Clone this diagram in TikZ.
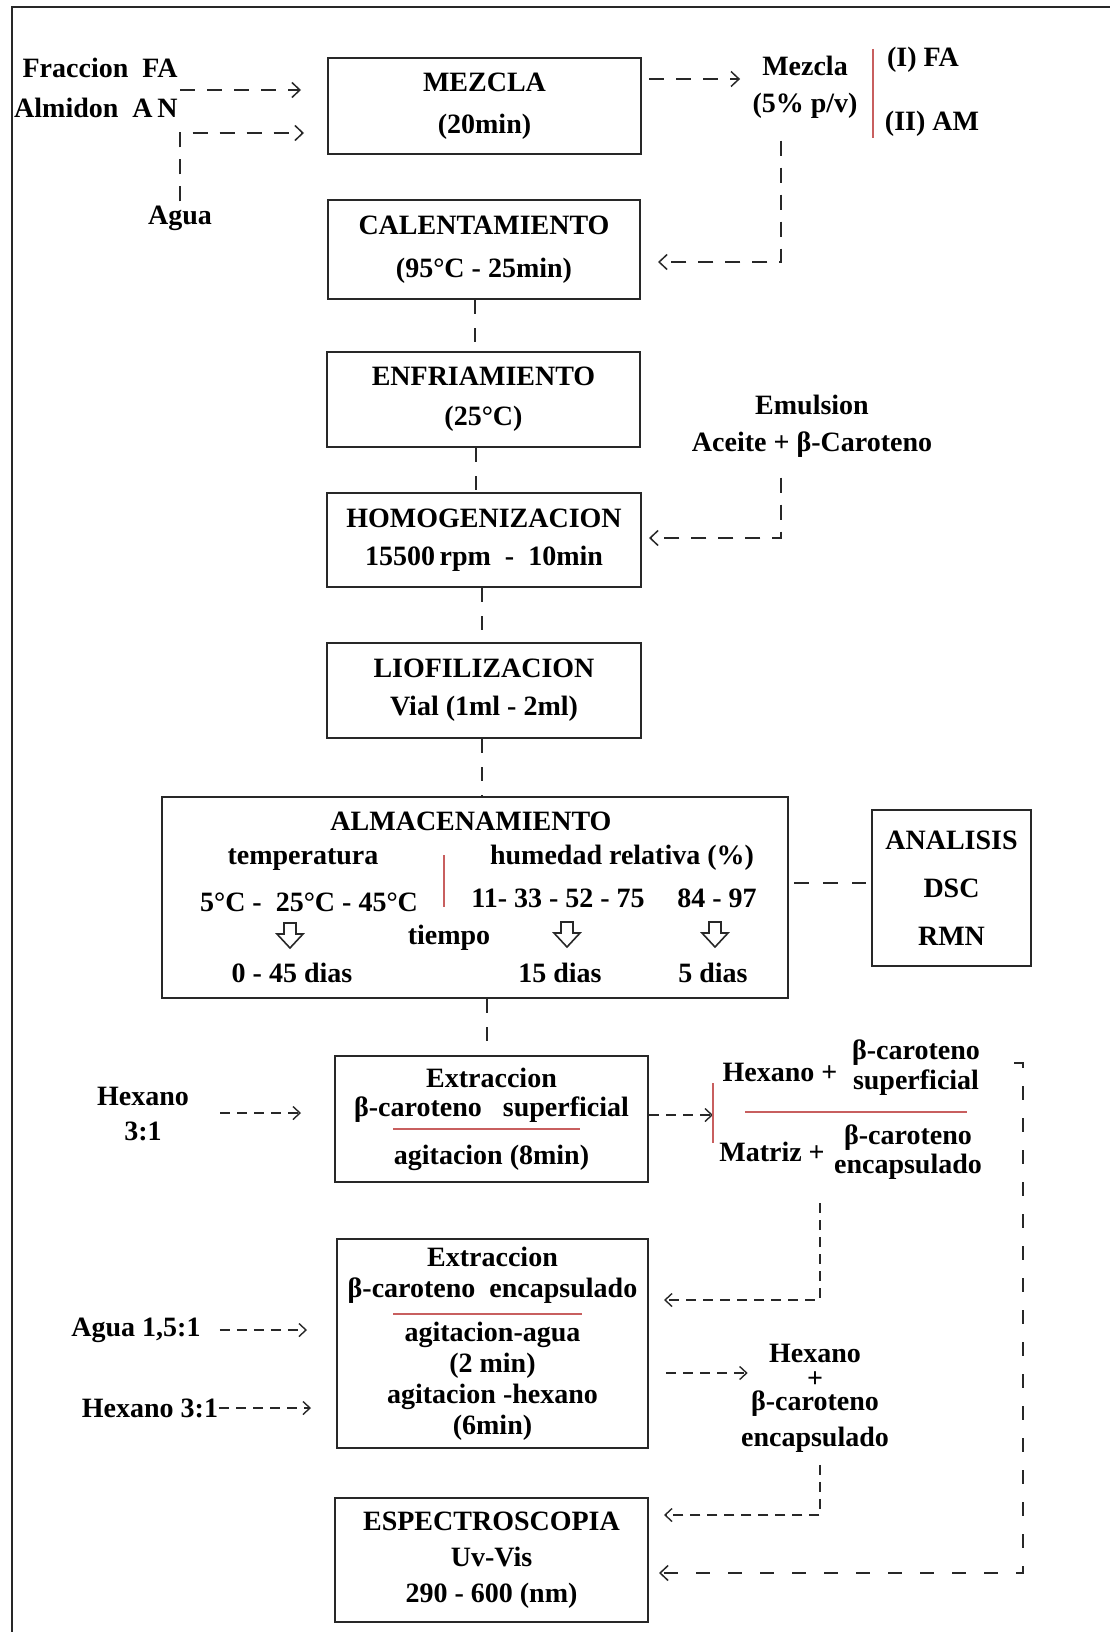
\documentclass[tikz,border=0pt]{standalone}
\usepackage{fontspec}
\setmainfont{Liberation Serif}
\usetikzlibrary{arrows.meta,calc}
\definecolor{ink}{RGB}{40,40,40}
\definecolor{rule}{RGB}{200,95,95}
\tikzset{
  procbox/.style={draw=ink, line width=1pt, align=center, inner sep=0pt, text=black,
    font=\fontsize{14}{#1}\selectfont\bfseries},
  procbox/.default=17pt,
  lbl/.style={align=center, inner sep=2pt, text=black, font=\fontsize{14}{17}\selectfont\bfseries},
  flow/.style={draw=ink, line width=0.75pt, dash pattern=on 7.5pt off 6pt},
  flowarrow/.style={flow, -{Straight Barb[length=4pt,width=7.5pt]}},
  fine/.style={draw=ink, line width=0.7pt, dash pattern=on 5pt off 3.5pt},
  finearrow/.style={fine, -{Straight Barb[length=3.5pt,width=6.5pt]}},
  link/.style={draw=ink, line width=0.75pt, dash pattern=on 7pt off 7pt},
  longdash/.style={draw=ink, line width=0.75pt, dash pattern=on 7pt off 9pt},
  redrule/.style={draw=rule, line width=1pt},
  hollowdown/.pic={\draw[ink, line width=0.8pt, line join=miter]
    (-6,0) -- (6,0) -- (6,11) -- (13,11) -- (0,25) -- (-13,11) -- (-6,11) -- cycle;}
}
\begin{document}
\begin{tikzpicture}[x=0.5pt, y=-0.5pt]
\useasboundingbox (0,0) rectangle (1110,1632);
\fill[white] (0,0) rectangle (1110,1632);
% outer frame
\draw[ink, line width=0.8pt] (12,1632) -- (12,7) -- (1110,7);

% main process boxes
\node[procbox=21pt, minimum width=156.5pt, minimum height=48pt] (mezcla) at (484.5,106) {MEZCLA\\(20min)};
\node[procbox=21.5pt, minimum width=156pt, minimum height=49.5pt] (calent) at (484,249.5) {CALENTAMIENTO\\(95°C - 25min)};
\node[procbox=20pt, minimum width=156.5pt, minimum height=47.5pt] (enfri) at (483.5,399.5) {ENFRIAMIENTO\\(25°C)};
\node[procbox=19pt, minimum width=157pt, minimum height=47pt] (homog) at (484,540) {HOMOGENIZACION\\15500\,rpm\ \ -\ \ 10min};
\node[procbox=19pt, minimum width=157pt, minimum height=47.5pt] (liof) at (484,690.5) {LIOFILIZACION\\Vial (1ml - 2ml)};
\node[procbox, minimum width=313pt, minimum height=100.5pt] (almac) at (475,897.5) {};
\node[procbox=24pt, minimum width=79.5pt, minimum height=78pt] (analisis) at (951.5,888) {ANALISIS\\DSC\\RMN};
\node[procbox=14.5pt, minimum width=156.5pt, minimum height=63pt] (ext1) at (491.5,1119)
  {Extraccion\\β-caroteno\ \ \ superficial\\[9.5pt]agitacion (8min)};
\node[procbox=15.5pt, minimum width=155.5pt, minimum height=104.5pt] (ext2) at (492.5,1343.5)
  {Extraccion\\β-caroteno\ \ encapsulado\\[6.5pt]agitacion-agua\\(2 min)\\agitacion -hexano\\(6min)};
\node[procbox=18pt, minimum width=156.5pt, minimum height=62pt] (espec) at (491.5,1560)
  {ESPECTROSCOPIA\\Uv-Vis\\290 - 600 (nm)};

% rules inside the extraction boxes
\draw[redrule] ($(ext1.center)+(-98.5,10)$) -- ($(ext1.center)+(88.5,10)$);
\draw[redrule] ($(ext2.center)+(-99.5,-29.5)$) -- ($(ext2.center)+(89.5,-29.5)$);

% storage conditions
\node[lbl] (almtitle) at (471,821) {ALMACENAMIENTO};
\node[lbl] (temp) at (303,860) {temperatura};
\node[lbl] (hum) at (622,858) {humedad relativa (\%)};
\node[lbl] (temps) at (309,902) {5°C\ -\ \ 25°C - 45°C};
\node[lbl] (hrlow) at (558,898) {11- 33 - 52 - 75};
\node[lbl] (hrhigh) at (717,898) {84 - 97};
\draw[redrule, line width=0.8pt] (444,855) -- (444,907);
\pic at (290,923) {hollowdown};
\pic at (567,922) {hollowdown};
\pic at (715,922) {hollowdown};
\node[lbl] (tiempo) at (449,938) {tiempo};
\node[lbl] (d45) at (292,973) {0 - 45 dias};
\node[lbl] (d15) at (560,973) {15 dias};
\node[lbl] (d5) at (713,973) {5 dias};

% inputs of the mixing step
\node[lbl, align=right, anchor=east, font=\fontsize{14}{20}\selectfont\bfseries] (inputs) at (182,88)
  {Fraccion\ \ FA\\Almidon\ \ A\,N};
\node[lbl] (agua) at (180,218) {Agua};
\draw[flowarrow] ($(inputs.east)+(-2,2)$) -- ($(mezcla.west)+(-26,-16)$);
\draw[flowarrow] (agua.north) |- ($(mezcla.west)+(-23,27)$);

% mixture and its variants
\node[lbl, font=\fontsize{14}{18.5}\selectfont\bfseries] (mlbl) at (805,87) {Mezcla\\(5\% p/v)};
\draw[flowarrow] ($(mezcla.east)+(7,-27)$) -- ($(mezcla.east -| mlbl.west)+(-8,-27)$);
\draw[redrule, line width=0.8pt] (873,49) -- (873,138);
\node[lbl] (fa) at (923,60) {(I) FA};
\node[lbl] (am) at (932,124) {(II) AM};
\draw[flowarrow] ($(mlbl.south)+(-24,18)$) |- ($(calent.east)+(17,12.5)$);

% emulsion feed
\node[lbl, font=\fontsize{14}{18.5}\selectfont\bfseries] (emul) at (812,426) {Emulsion\\Aceite + β-Caroteno};
\draw[flowarrow] ($(emul.south)+(-31,16)$) |- ($(homog.east)+(7,-2)$);

% main sequence links
\draw[link] ($(calent.south)+(-9,0)$) -- ($(enfri.north)+(-8.5,0)$);
\draw[link] ($(enfri.south)+(-7.5,0)$) -- ($(homog.north)+(-8,0)$);
\draw[link] ($(homog.south)+(-2,0)$) -- ($(liof.north)+(-2,0)$);
\draw[link] ($(liof.south)+(-2,0)$) -- ($(liof.south |- almac.north)+(-2,0)$);
\draw[link] ($(ext1.north |- almac.south)+(-4.5,0)$) -- ($(ext1.north)+(-4.5,0)$);
\draw[link, dash pattern=on 7.5pt off 7pt] ($(almac.east)+(5,-14.5)$) -- ($(analisis.west)+(-5,-5)$);

% surface extraction
\node[lbl, font=\fontsize{14}{17.5}\selectfont\bfseries] (hex1) at (143,1114.5) {Hexano\\3:1};
\draw[finearrow] ($(hex1.east)+(27,-1.5)$) -- ($(ext1.west)+(-33,-6)$);
\coordinate (split1) at (713,1115);
\draw[finearrow] ($(ext1.east)+(0,-4)$) -- (split1);
\draw[redrule, line width=0.8pt] ($(split1)+(0,-32)$) -- ($(split1)+(0,28)$);
\node[lbl] (hexp) at (780,1072) {Hexano +};
\node[lbl, font=\fontsize{14}{15}\selectfont\bfseries] (sup1) at (916,1068) {β-caroteno\\superficial};
\draw[redrule] (745,1112) -- (967,1112);
\node[lbl] (matp) at (772,1152) {Matriz +};
\node[lbl, font=\fontsize{14}{14.5}\selectfont\bfseries] (enc1) at (908,1152.5) {β-caroteno\\encapsulado};
\draw[finearrow] ($(enc1.south)+(-88,19)$) |- ($(ext2.east)+(15,-43.5)$);
\coordinate (rc) at (1023,1063);
\draw[longdash, -{Straight Barb[length=4pt,width=7.5pt]}] ($(sup1.east)+(30,-5)$) -- (rc) |- ($(espec.east)+(10,13)$);

% encapsulated extraction
\node[lbl] (agua2) at (136,1330) {Agua 1,5:1};
\draw[finearrow] ($(agua2.east)+(15,0)$) -- ($(ext2.west)+(-29,-13.5)$);
\node[lbl] (hex3) at (150,1408) {Hexano 3:1};
\draw[finearrow] ($(hex3.east)+(-3,0)$) -- ($(ext2.west)+(-25,64.5)$);
\node[lbl, font=\fontsize{14}{12}\selectfont\bfseries] (hexenc) at (815,1398)
  {Hexano\\[0.5pt]+\\[-0.5pt]β-caroteno\\[4.5pt]encapsulado};
\draw[finearrow] ($(ext2.east)+(17,29.5)$) -- ($(hexenc.west)+(11,-25)$);
\draw[finearrow] ($(hexenc.south)+(5,8)$) |- ($(espec.east)+(15,-45)$);
\end{tikzpicture}
\end{document}
